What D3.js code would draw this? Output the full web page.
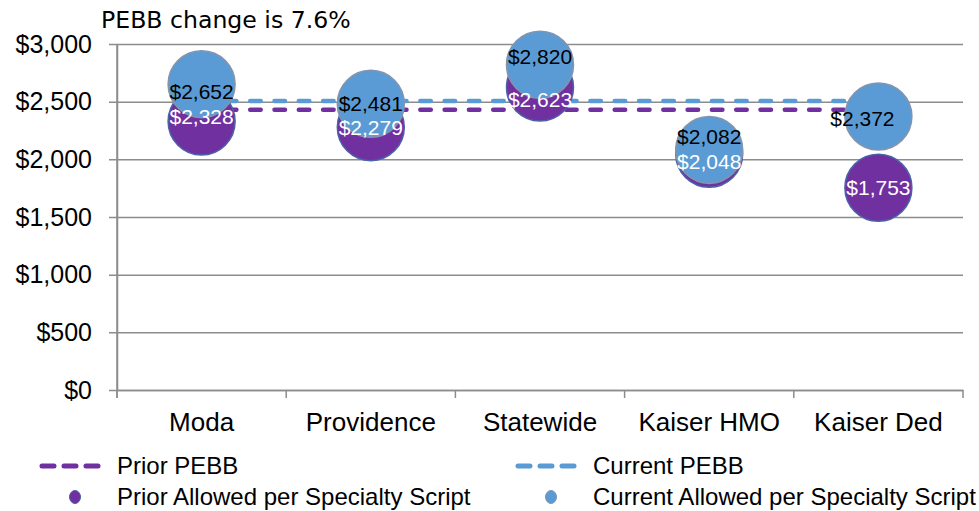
<!DOCTYPE html>
<html><head><meta charset="utf-8">
<script src="https://cdn.jsdelivr.net/npm/d3@7"></script>
<style>html,body{margin:0;padding:0;background:#fff;overflow:hidden}</style>
</head><body>
<svg id="chart" width="979" height="511"></svg>
<script>
// ---- data ----
const categories = ["Moda", "Providence", "Statewide", "Kaiser HMO", "Kaiser Ded"];
const priorAllowed = [2328, 2279, 2623, 2048, 1753];
const currentAllowed = [2652, 2481, 2820, 2082, 2372];
const priorPEBB = 2430;
const currentPEBB = 2505;
const yTickValues = [0, 500, 1000, 1500, 2000, 2500, 3000];
const subtitle = "PEBB change is 7.6%";
const legendLabels = ["Prior PEBB", "Current PEBB", "Prior Allowed per Specialty Script", "Current Allowed per Specialty Script"];

// ---- layout / style ----
const W = 979, H = 511;
const plot = {left: 117, right: 963, top: 44, bottom: 390};
const purple = "#7030A0", blue = "#5B9BD5", grid = "#8C8C8C";
const font = "Liberation Sans, Arial, sans-serif";
const R = 33.5;
// label nudges (px) relative to bubble centre
const curNudge = [[0, 8], [0, 0], [0, -8], [0, -13], [-16, 2]];
const priNudge = [[0, -5], [0, 0], [0, 12], [0, 8], [0, 0]];

const svg = d3.select("#chart");
const x = d3.scaleBand().domain(categories).range([plot.left, plot.right]);
const y = d3.scaleLinear().domain([0, 3000]).range([plot.bottom, plot.top]);
const fmt = v => "$" + d3.format(",")(v);

// gridlines + y axis
const yAxis = d3.axisLeft(y).tickValues(yTickValues).tickFormat(fmt)
  .tickSize(-(plot.right - plot.left)).tickSizeOuter(0).tickPadding(25);
const gy = svg.append("g").attr("transform", `translate(${plot.left},0)`).call(yAxis);
gy.select(".domain").attr("stroke", grid).attr("stroke-width", 1.5);
gy.selectAll(".tick line").attr("stroke", grid).attr("stroke-width", 1.5).attr("x1", -8);
gy.selectAll(".tick text").attr("font-family", font).attr("font-size", 25).attr("fill", "#000");

// x axis
const xAxis = d3.axisBottom(x).tickSize(0).tickPadding(32);
const gx = svg.append("g").attr("transform", `translate(0,${plot.bottom})`).call(xAxis);
gx.select(".domain").attr("stroke", grid).attr("stroke-width", 1.5);
gx.selectAll(".tick text").attr("font-family", font).attr("font-size", 26).attr("fill", "#000")
  .attr("dy", "0.35em");
const bounds = categories.map(c => x(c)).concat([plot.right]);
gx.selectAll(".bt").data(bounds).join("line").attr("class", "bt")
  .attr("x1", d => d).attr("x2", d => d).attr("y1", 0).attr("y2", 8)
  .attr("stroke", grid).attr("stroke-width", 1.5);
svg.append("line").attr("x1", plot.left).attr("x2", plot.left).attr("y1", plot.top).attr("y2", plot.bottom + 8)
  .attr("stroke", grid).attr("stroke-width", 1.5);

// PEBB dashed lines
const cx = c => x(c) + x.bandwidth() / 2;
const dash = "10.5 13.8";
[[currentPEBB, blue], [priorPEBB, purple]].forEach(([v, col]) => {
  svg.append("line")
    .attr("x1", cx(categories[0])).attr("x2", cx(categories[categories.length - 1]))
    .attr("y1", y(v)).attr("y2", y(v))
    .attr("stroke", col).attr("stroke-width", 4.5).attr("stroke-dasharray", dash)
    .attr("stroke-linecap", "round");
});

// bubbles
svg.append("g").selectAll("circle").data(categories).join("circle")
  .attr("cx", c => cx(c)).attr("cy", (c, i) => y(priorAllowed[i])).attr("r", R)
  .attr("fill", purple).attr("stroke", "#4A62A8").attr("stroke-width", 1.5);
svg.append("g").selectAll("circle").data(categories).join("circle")
  .attr("cx", c => cx(c)).attr("cy", (c, i) => y(currentAllowed[i])).attr("r", R)
  .attr("fill", blue).attr("stroke", "#8494AC").attr("stroke-width", 1.5);

// labels
svg.append("g").selectAll("text").data(categories).join("text")
  .attr("x", (c, i) => cx(c) + priNudge[i][0]).attr("y", (c, i) => y(priorAllowed[i]) + priNudge[i][1])
  .attr("dy", "0.35em").attr("text-anchor", "middle")
  .attr("font-family", font).attr("font-size", 21).attr("fill", "#fff")
  .text((c, i) => fmt(priorAllowed[i]));
svg.append("g").selectAll("text").data(categories).join("text")
  .attr("x", (c, i) => cx(c) + curNudge[i][0]).attr("y", (c, i) => y(currentAllowed[i]) + curNudge[i][1])
  .attr("dy", "0.35em").attr("text-anchor", "middle")
  .attr("font-family", font).attr("font-size", 21).attr("fill", "#000")
  .text((c, i) => fmt(currentAllowed[i]));

// subtitle
svg.append("text").attr("x", 101).attr("y", 28)
  .attr("font-family", "DejaVu Sans, Verdana, sans-serif").attr("font-size", 23.6).attr("fill", "#000")
  .text(subtitle);

// legend
const leg = svg.append("g");
const items = [
  {t: legendLabels[0], col: purple, type: "line", x: 40, y: 466},
  {t: legendLabels[1], col: blue, type: "line", x: 516, y: 466},
  {t: legendLabels[2], col: purple, type: "dot", x: 40, y: 497, stroke: "#4A62A8"},
  {t: legendLabels[3], col: blue, type: "dot", x: 516, y: 497, stroke: "#8494AC"}
];
items.forEach(it => {
  if (it.type === "line") {
    leg.append("line").attr("x1", it.x + 2).attr("x2", it.x + 62).attr("y1", it.y).attr("y2", it.y)
      .attr("stroke", it.col).attr("stroke-width", 5).attr("stroke-dasharray", "12 10")
      .attr("stroke-linecap", "round");
  } else {
    leg.append("ellipse").attr("cx", it.x + 35).attr("cy", it.y).attr("rx", 5.5).attr("ry", 6.5)
      .attr("fill", it.col).attr("stroke", it.stroke).attr("stroke-width", 1);
  }
  leg.append("text").attr("x", it.x + 77).attr("y", it.y).attr("dy", "0.35em")
    .attr("font-family", font).attr("font-size", 24).attr("fill", "#000").text(it.t);
});
</script>
</body></html>
